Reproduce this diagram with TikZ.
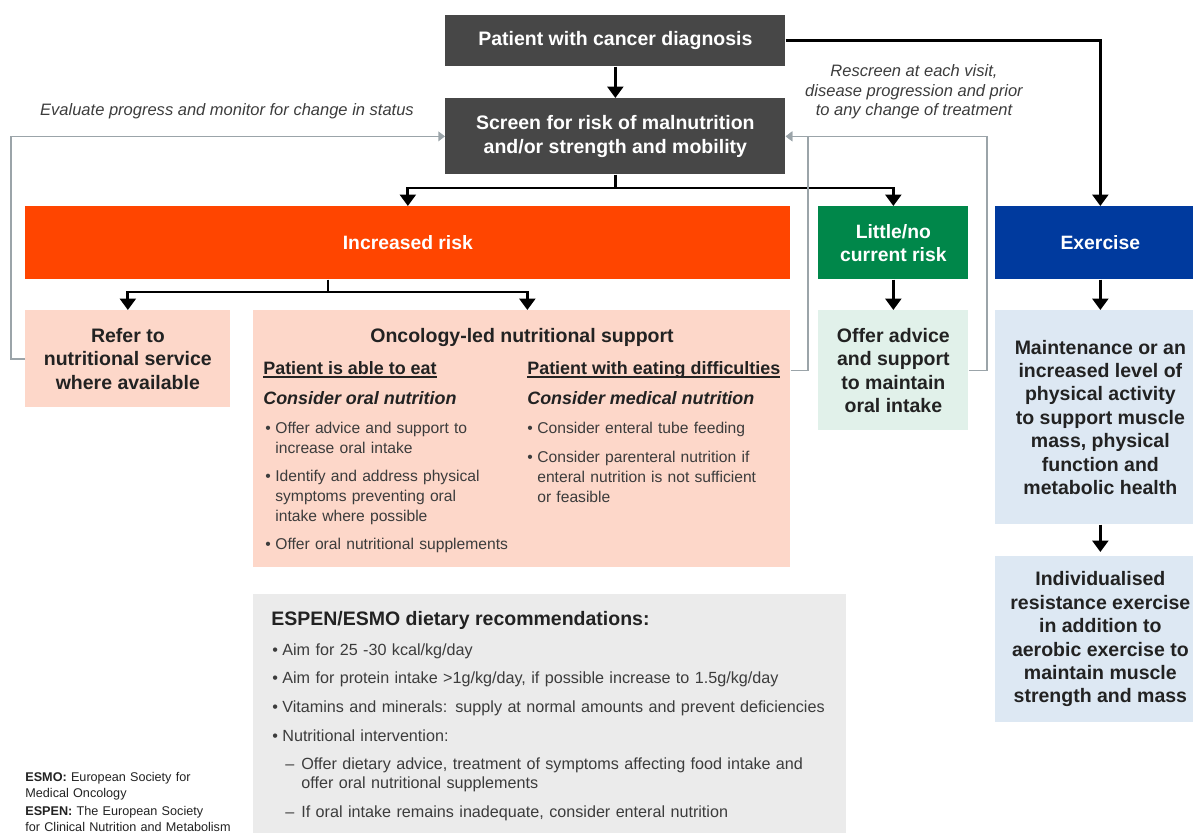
\documentclass[tikz,border=0pt]{standalone}
\usepackage{fontspec}
\setmainfont{Liberation Sans}
\usetikzlibrary{arrows.meta}

\definecolor{boxdark}{HTML}{474747}
\definecolor{riskred}{HTML}{FF4500}
\definecolor{riskgreen}{HTML}{00874A}
\definecolor{exblue}{HTML}{003A9E}
\definecolor{peach}{HTML}{FDD7C9}
\definecolor{mint}{HTML}{E1F1EA}
\definecolor{paleblue}{HTML}{DDE8F3}
\definecolor{panelgray}{HTML}{EBEBEB}
\definecolor{loopgray}{HTML}{9BA4A9}
\definecolor{inkdark}{HTML}{222222}
\definecolor{inkgray}{HTML}{3C3C3C}

\newcommand{\px}{0.02cm}
\newcommand{\bitem}[1]{\par\noindent\hangindent=0.2cm\hangafter=1\makebox[0.2cm][l]{\textbullet}#1\par}
\newcommand{\ditem}[1]{{\par\leftskip=0.26cm\noindent\hangindent=0.32cm\hangafter=1\makebox[0.32cm][l]{--}#1\par}}
\newcommand{\headline}[1]{\setbox0\hbox{#1}\rlap{\rule[-2pt]{\wd0}{0.6pt}}\box0}

\begin{document}
\begin{tikzpicture}[x=\px,y=-\px,
    darkbox/.style={fill=boxdark, text=white, align=center, inner sep=0pt, anchor=north west,
      font=\bfseries\fontsize{11.1}{13.6}\selectfont},
    headbox/.style={text=white, align=center, inner sep=0pt, anchor=north west,
      font=\bfseries\fontsize{11}{13}\selectfont},
    palebox/.style={text=inkdark, align=center, inner sep=0pt, anchor=north west,
      font=\bfseries\fontsize{11.1}{13.3}\selectfont},
    link/.style={line width=1.6pt, -{Triangle[length=6.5pt,width=9pt]}},
    backlink/.style={line width=0.9pt, draw=loopgray, -{Triangle[length=3.8pt,width=5.5pt]}},
    note/.style={text=inkgray, align=center, font=\itshape\fontsize{9.4}{11}\selectfont},
    subhead/.style={text=inkdark, anchor=base west, inner sep=0pt, font=\bfseries\fontsize{10.2}{12}\selectfont},
    listtext/.style={text=inkgray, anchor=base west, inner sep=0pt}]
  \useasboundingbox (0,0) rectangle (1193,832);
  \clip (0,0) rectangle (1193,832);

  \node[darkbox, minimum width=340*\px, minimum height=51*\px] (patient) at (445,15) {Patient with cancer diagnosis};
  \node[darkbox, minimum width=340*\px, minimum height=76*\px] (screen) at (445,98) {Screen for risk of malnutrition\\and/or strength and mobility};

  \node[headbox, fill=riskred, minimum width=765*\px, minimum height=73*\px] (increased) at (25,206) {Increased risk};
  \node[headbox, fill=riskgreen, minimum width=150*\px, minimum height=73*\px] (little) at (818,206) {Little/no\\current risk};
  \node[headbox, fill=exblue, minimum width=210*\px, minimum height=73*\px] (exercise) at (995,206) {Exercise};

  \node[palebox, fill=peach, minimum width=205*\px, minimum height=97*\px] (refer) at (25,310) {Refer to\\nutritional service\\where available};
  \node[palebox, fill=peach, minimum width=537*\px, minimum height=257*\px] (onco) at (253,310) {};
  \node[palebox, fill=mint, minimum width=150*\px, minimum height=120*\px] (offer) at (818,310) {Offer advice\\and support\\to maintain\\oral intake};
  \node[palebox, fill=paleblue, minimum width=210*\px, minimum height=214*\px] (maint) at (995,310) {Maintenance or an\\increased level of\\physical activity\\to support muscle\\mass, physical\\function and\\metabolic health};
  \node[palebox, fill=paleblue, minimum width=210*\px, minimum height=166*\px] (indiv) at (995,556) {Individualised\\resistance exercise\\in addition to\\aerobic exercise to\\maintain muscle\\strength and mass};
  \node[palebox, fill=panelgray, minimum width=593*\px, minimum height=260*\px] (espen) at (253,594) {};

  \node[note] (evalnote) at (227,111) {Evaluate progress and monitor for change in status};
  \node[note] (rescreen) at (914,92) {Rescreen at each visit,\\disease progression and prior\\to any change of treatment};

  \draw[link] (patient) -- (screen);
  \draw[link] (patient.east) -| (exercise);
  \coordinate (fork) at (screen.south |- 0,188);
  \draw[line width=1.6pt] (screen) -- (fork);
  \draw[link] (fork) -| (increased);
  \draw[link] (fork) -| (little);
  \coordinate (subfork) at (328,292);
  \draw[line width=1.6pt] (increased.south -| subfork) -- (subfork);
  \draw[link] (subfork) -| (refer);
  \draw[link] (subfork) -| ([xshift=0.11cm]onco.north);
  \draw[link] (little) -- (offer);
  \draw[link] (exercise) -- (maint);
  \draw[link, shorten >=0.08cm] (maint) -- (indiv);

  \draw[backlink] (refer.west) -- ++(-14,0) |- (screen.west);
  \draw[backlink] (onco.east |- offer.east) -- ++(17,0) |- (screen.east);
  \draw[backlink] (offer.east) -- ++(18,0) |- (screen.east);

  \node[text=inkdark, anchor=base, inner sep=0pt, font=\bfseries\fontsize{11.1}{13}\selectfont] (oncotitle) at (522,342) {Oncology-led nutritional support};
  \node[subhead] (eathead) at (263,374) {\headline{Patient is able to eat}};
  \node[subhead] (oralhead) at (263,404) {\itshape Consider oral nutrition};
  \node[listtext, text width=255*\px, font=\fontsize{8.9}{11.3}\selectfont] (orallist) at (265,414)
    {\raggedright
     \bitem{Offer advice and support to\newline increase oral intake}\setlength{\parskip}{0.16cm}%
     \bitem{Identify and address physical\newline symptoms preventing oral\newline intake where possible}
     \bitem{Offer oral nutritional supplements}};
  \node[subhead] (diffhead) at (527,374) {\headline{Patient with eating difficulties}};
  \node[subhead] (medhead) at (527,404) {\itshape Consider medical nutrition};
  \node[listtext, text width=258*\px, font=\fontsize{8.9}{11.3}\selectfont] (medlist) at (527,414)
    {\raggedright
     \bitem{Consider enteral tube feeding}\setlength{\parskip}{0.18cm}%
     \bitem{Consider parenteral nutrition if\newline enteral nutrition is not sufficient\newline or feasible}};

  \node[text=inkdark, anchor=base west, inner sep=0pt, font=\bfseries\fontsize{11.1}{13}\selectfont] (espentitle) at (271,625) {ESPEN/ESMO dietary recommendations:};
  \node[listtext, text width=570*\px, font=\fontsize{9.2}{10.9}\selectfont] (espenlist) at (272,636)
    {\raggedright
     \bitem{Aim for 25 -30 kcal/kg/day}\setlength{\parskip}{0.19cm}%
     \bitem{Aim for protein intake >1g/kg/day, if possible increase to 1.5g/kg/day}
     \bitem{Vitamins and minerals: supply at normal amounts and prevent deficiencies}
     \bitem{Nutritional intervention:}
     \ditem{Offer dietary advice, treatment of symptoms affecting food intake and\newline offer oral nutritional supplements}
     \ditem{If oral intake remains inadequate, consider enteral nutrition}};

  \node[listtext, text=inkdark, text width=240*\px, align=left, font=\fontsize{7.2}{9.1}\selectfont] (abbrev) at (25,781)
    {\textbf{ESMO:} European Society for\\Medical Oncology\\[1.7pt]\textbf{ESPEN:} The European Society\\for Clinical Nutrition and Metabolism};
\end{tikzpicture}
\end{document}
